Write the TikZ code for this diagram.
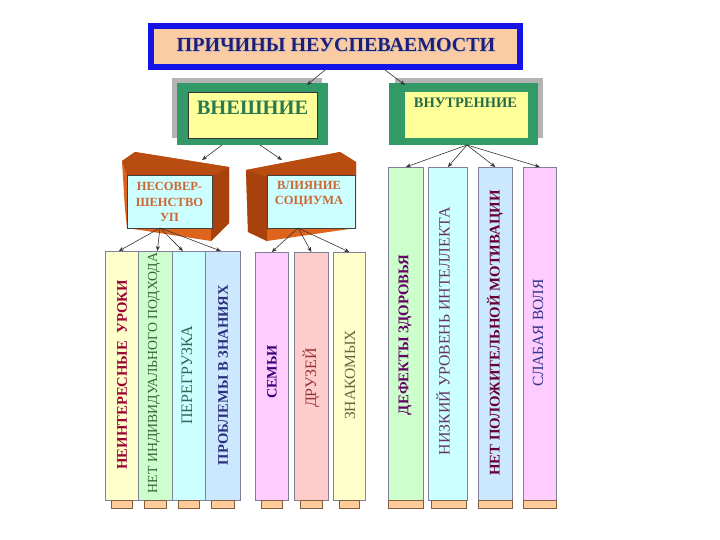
\documentclass[tikz,border=0pt]{standalone}
\usepackage{fontspec}
\setmainfont{Liberation Serif}
\usetikzlibrary{arrows.meta}
\definecolor{peach}{HTML}{FBCBA3}
\definecolor{titleblue}{HTML}{1414E6}
\definecolor{titletext}{HTML}{1E1E78}
\definecolor{grn}{HTML}{339966}
\definecolor{yel}{HTML}{FFFF99}
\definecolor{shad}{HTML}{B4B4B4}
\definecolor{orng}{HTML}{DE641C}
\definecolor{orngd}{HTML}{A8420C}
\definecolor{cyanbox}{HTML}{CCFFFF}
\definecolor{boxtext}{HTML}{CC6633}
\definecolor{cY}{HTML}{FFFFCC}
\definecolor{cG}{HTML}{CCFFCC}
\definecolor{cC}{HTML}{CCFFFF}
\definecolor{cB}{HTML}{CCE8FF}
\definecolor{cP}{HTML}{FFCCFF}
\definecolor{cR}{HTML}{FFCCCC}
\definecolor{tabc}{HTML}{FFCC99}
\definecolor{colline}{HTML}{80809A}
\definecolor{tabline}{HTML}{806040}
\definecolor{tA}{HTML}{990033}
\definecolor{tB}{HTML}{3E5E3E}
\definecolor{tC}{HTML}{336655}
\definecolor{tD}{HTML}{2E2E80}
\definecolor{tE}{HTML}{330077}
\definecolor{tF}{HTML}{993333}
\definecolor{tG}{HTML}{666644}
\definecolor{tH}{HTML}{660066}
\definecolor{tI}{HTML}{663366}
\definecolor{tJ}{HTML}{660033}
\definecolor{tK}{HTML}{333388}
\begin{document}
\begin{tikzpicture}[x=1pt,y=-1pt,
  arr/.style={draw=black!80,line width=0.6pt,-{Stealth[length=5pt,width=4pt]}},
  colbox/.style={draw=colline,line width=0.7pt,anchor=north west,inner sep=0pt},
  tabbox/.style={fill=tabc,draw=tabline,line width=0.6pt,anchor=north west,inner sep=0pt,minimum height=8},
  vtext/.style={rotate=90,inner sep=0pt,font=\fontsize{#1}{18}\selectfont},
  vbold/.style={rotate=90,inner sep=0pt,font=\fontsize{#1}{18}\selectfont\bfseries},
  plain/.style={inner sep=0pt}]
\useasboundingbox (0,0) rectangle (720,540);
\fill[white] (0,0) rectangle (720,540);
% title
\node[draw=titleblue,line width=6pt,fill=peach,minimum width=369,minimum height=41,inner sep=0pt] (title) at (335.5,46.5) {};
\node[plain,text=black!25,font=\fontsize{20}{24}\selectfont\bfseries] (titles) at (337,46) {ПРИЧИНЫ НЕУСПЕВАЕМОСТИ};
\node[plain,text=titletext,font=\fontsize{20}{24}\selectfont\bfseries] (titlet) at (336,45) {ПРИЧИНЫ НЕУСПЕВАЕМОСТИ};
% external
\fill[shad] (172,78) rectangle (322,138);
\node[fill=grn,minimum width=151,minimum height=62,inner sep=0pt,anchor=north west] (ext) at (177,83) {};
\node[fill=yel,draw=black!80,line width=0.8pt,minimum width=129,minimum height=46,inner sep=0pt,anchor=north west] (exti) at (188,92) {};
\node[plain,text=grn!80!black,font=\fontsize{20.5}{24}\selectfont\bfseries] (extt) at (252.5,107.5) {ВНЕШНИЕ};
% internal
\fill[shad] (395,78) rectangle (543,138);
\node[fill=grn,minimum width=149,minimum height=62,inner sep=0pt,anchor=north west] (int) at (389,83) {};
\node[fill=yel,minimum width=123,minimum height=46,inner sep=0pt,anchor=north west] (inti) at (405,92) {};
\node[plain,text=grn!70!black,font=\fontsize{14.5}{17}\selectfont\bfseries] (intt) at (465.5,103) {ВНУТРЕННИЕ};
% title arrows
\coordinate (ts1) at (325,70); \coordinate (te1) at (307,85);
\coordinate (ts2) at (385,70); \coordinate (te2) at (405,85);
\draw[arr] (ts1) -- (te1);
\draw[arr] (ts2) -- (te2);
% orange 3D boxes
\fill[orng] (122,161) -- (135,152) -- (229,167) -- (229,223) -- (211,241) -- (127,228) -- (125,210) -- cycle;
\fill[orngd] (212,176) -- (229,167) -- (229,223) -- (211,241) -- cycle;
\fill[orngd!70!orng] (122,161) -- (135,152) -- (229,167) -- (212,176) -- (127,176) -- cycle;
\fill[orng] (246,170) -- (340,152) -- (356,162) -- (356,228) -- (267,241) -- (248,232) -- cycle;
\fill[orngd] (246,170) -- (267,176) -- (267,241) -- (248,232) -- cycle;
\fill[orngd!70!orng] (246,170) -- (340,152) -- (356,162) -- (356,176) -- (267,176) -- cycle;
\node[fill=cyanbox,draw=black!75,line width=0.7pt,minimum width=85,minimum height=53,inner sep=0pt] (nes) at (169.5,201.5) {};
\node[plain,align=center,text=boxtext,font=\fontsize{12.5}{15.5}\selectfont\bfseries] (nest) at (169.5,202) {НЕСОВЕР-\\ШЕНСТВО\\УП};
\node[fill=cyanbox,draw=black!75,line width=0.7pt,minimum width=88,minimum height=53,inner sep=0pt] (vli) at (311,201.5) {};
\node[plain,align=center,text=boxtext,font=\fontsize{12.5}{15.5}\selectfont\bfseries] (vlit) at (309,194) {ВЛИЯНИЕ\\СОЦИУМА};
% arrows from external
\coordinate (es1) at (222,145); \coordinate (ee1) at (202,160);
\coordinate (es2) at (260,145); \coordinate (ee2) at (282,160);
\draw[arr] (es1) -- (ee1);
\draw[arr] (es2) -- (ee2);
% columns group 1
\node[colbox,fill=cY,minimum width=33,minimum height=249] (c1) at (105,251) {};
\node[colbox,fill=cG,minimum width=34,minimum height=249] (c2) at (138,251) {};
\node[colbox,fill=cC,minimum width=33,minimum height=249] (c3) at (172,251) {};
\node[colbox,fill=cB,minimum width=35,minimum height=249] (c4) at (205,251) {};
% group 2
\node[colbox,fill=cP,minimum width=33,minimum height=248] (c5) at (255,252) {};
\node[colbox,fill=cR,minimum width=34,minimum height=248] (c6) at (294,252) {};
\node[colbox,fill=cY,minimum width=32,minimum height=248] (c7) at (333,252) {};
% group 3
\node[colbox,fill=cG,minimum width=35,minimum height=333] (c8) at (388,167) {};
\node[colbox,fill=cC,minimum width=39,minimum height=333] (c9) at (428,167) {};
\node[colbox,fill=cB,minimum width=34,minimum height=333] (c10) at (478,167) {};
\node[colbox,fill=cP,minimum width=33,minimum height=333] (c11) at (523,167) {};
% tabs
\node[tabbox,minimum width=21] (b1) at (111,500) {};
\node[tabbox,minimum width=22] (b2) at (144,500) {};
\node[tabbox,minimum width=21] (b3) at (178,500) {};
\node[tabbox,minimum width=23] (b4) at (211,500) {};
\node[tabbox,minimum width=21] (b5) at (261,500) {};
\node[tabbox,minimum width=22] (b6) at (300,500) {};
\node[tabbox,minimum width=20] (b7) at (339,500) {};
\node[tabbox,minimum width=35] (b8) at (388,500) {};
\node[tabbox,minimum width=35] (b9) at (431,500) {};
\node[tabbox,minimum width=34] (b10) at (478,500) {};
\node[tabbox,minimum width=33] (b11) at (523,500) {};
% column texts
\node[vbold=14.7,text=tA] (t1) at (122,375) {НЕИНТЕРЕСНЫЕ\ \ УРОКИ};
\node[vtext=13.8,text=tB] (t2) at (154,373) {НЕТ ИНДИВИДУАЛЬНОГО ПОДХОДА};
\node[vtext=16,text=tC] (t3) at (187,375) {ПЕРЕГРУЗКА};
\node[vbold=14.6,text=tD] (t4) at (223,375) {ПРОБЛЕМЫ В ЗНАНИЯХ};
\node[vbold=14.3,text=tE] (t5) at (272,372) {СЕМЬИ};
\node[vtext=16,text=tF] (t6) at (311,378) {ДРУЗЕЙ};
\node[vtext=15.5,text=tG] (t7) at (350,375) {ЗНАКОМЫХ};
\node[vbold=14.8,text=tH] (t8) at (405,335) {ДЕФЕКТЫ ЗДОРОВЬЯ};
\node[vtext=15.8,text=tI] (t9) at (443,331) {НИЗКИЙ УРОВЕНЬ ИНТЕЛЛЕКТА};
\node[vbold=14.8,text=tJ] (t10) at (495,333) {НЕТ ПОЛОЖИТЕЛЬНОЙ МОТИВАЦИИ};
\node[vtext=15.5,text=tK] (t11) at (538,333) {СЛАБАЯ ВОЛЯ};
% arrows to columns
\coordinate (nesb) at (160,228);
\draw[arr] (nesb) -- ([xshift=-3]c1.north);
\draw[arr] (nesb) -- ([xshift=2]c2.north);
\draw[arr] (nesb) -- ([xshift=-6]c3.north);
\draw[arr] (nesb) -- ([xshift=-2]c4.north);
\coordinate (vlib) at (298,228);
\draw[arr] (vlib) -- (c5.north);
\draw[arr] (vlib) -- (c6.north);
\draw[arr] (vlib) -- (c7.north);
\coordinate (intb) at (467,145);
\draw[arr] (intb) -- (c8.north);
\draw[arr] (intb) -- (c9.north);
\draw[arr] (intb) -- (c10.north);
\draw[arr] (intb) -- (c11.north);
\end{tikzpicture}
\end{document}
